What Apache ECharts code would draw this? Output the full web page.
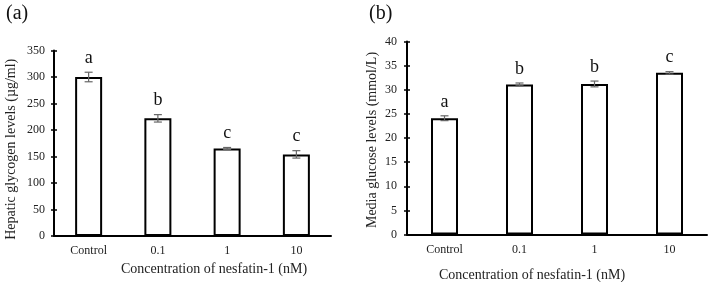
<!DOCTYPE html>
<html>
<head>
<meta charset="utf-8">
<script src="https://cdn.jsdelivr.net/npm/echarts@6/dist/echarts.min.js"></script>
<style>
  html, body { margin: 0; padding: 0; background: #fff; }
  #chart { width: 708px; height: 282px; }
</style>
</head>
<body>
<div id="chart"></div>
<script>
const categories = ['Control', '0.1', '1', '10'];

// (a) hepatic glycogen
const glycogen = [300, 222, 165, 154];
const glycogenErr = [9, 7, 2, 7];
const glycogenLetters = ['a', 'b', 'c', 'c'];
const glycogenTicks = { min: 0, max: 350, interval: 50 };

// (b) media glucose
const glucose = [24.1, 31.1, 31.2, 33.5];
const glucoseErr = [0.5, 0.3, 0.6, 0.25];
const glucoseLetters = ['a', 'b', 'b', 'c'];
const glucoseTicks = { min: 0, max: 40, interval: 5 };

const FONT = 'Liberation Serif';
const chart = echarts.init(document.getElementById('chart'));

function xAxis(idx, pad) {
  return {
    type: 'category',
    gridIndex: idx,
    data: categories,
    name: 'Concentration of nesfatin-1 (nM)',
    nameLocation: 'middle',
    nameGap: idx === 0 ? 24 : 34,
    nameTextStyle: { fontFamily: FONT, fontSize: 14, color: '#222', padding: pad },
    axisLine: { lineStyle: { color: '#000', width: 2 } },
    axisTick: { show: false },
    axisLabel: { fontFamily: FONT, fontSize: 12, color: '#222', margin: 9 }
  };
}

function yAxis(idx, ticks, name, gap, margin, pad) {
  return {
    type: 'value',
    gridIndex: idx,
    min: ticks.min,
    max: ticks.max,
    interval: ticks.interval,
    name: name,
    nameLocation: 'middle',
    nameGap: gap,
    nameTextStyle: { fontFamily: FONT, fontSize: 14, color: '#222', padding: pad },
    axisLine: { show: true, lineStyle: { color: '#000', width: 2 } },
    axisTick: { show: true, length: 3, lineStyle: { color: '#000', width: 1.5 } },
    axisLabel: { fontFamily: FONT, fontSize: 12, color: '#222', margin: margin },
    splitLine: { show: false }
  };
}

// second axis per grid only draws the inner half of the ticks
function innerTicks(idx, ticks) {
  return {
    type: 'value',
    gridIndex: idx,
    position: 'left',
    min: ticks.min,
    max: ticks.max,
    interval: ticks.interval,
    axisLine: { show: false },
    axisTick: { show: true, inside: true, length: 3, lineStyle: { color: '#000', width: 1.5 } },
    axisLabel: { show: false },
    splitLine: { show: false }
  };
}

function barSeries(idx, values) {
  return {
    type: 'bar',
    xAxisIndex: idx,
    yAxisIndex: idx * 2,
    data: values,
    barWidth: 27,
    itemStyle: { color: '#fff', borderColor: '#000', borderWidth: 2 },
    silent: true
  };
}

function errSeries(idx, values, errs, letters) {
  return {
    type: 'custom',
    xAxisIndex: idx,
    yAxisIndex: idx * 2,
    data: values.map((v, i) => [i, v, errs[i]]),
    clip: false,
    z: 5,
    renderItem: (params, api) => {
      const i = api.value(0), v = api.value(1), e = api.value(2);
      const hi = api.coord([i, v + e]);
      const lo = api.coord([i, v - e]);
      const cap = 4;
      const style = { stroke: '#666', lineWidth: 1.2 };
      return {
        type: 'group',
        children: [
          { type: 'line', shape: { x1: hi[0], y1: hi[1], x2: lo[0], y2: lo[1] }, style },
          { type: 'line', shape: { x1: hi[0] - cap, y1: hi[1], x2: hi[0] + cap, y2: hi[1] }, style },
          { type: 'line', shape: { x1: lo[0] - cap, y1: lo[1], x2: lo[0] + cap, y2: lo[1] }, style },
          {
            type: 'text',
            style: {
              text: letters[params.dataIndex],
              x: hi[0], y: hi[1] - 14,
              align: 'center', verticalAlign: 'middle',
              fontFamily: FONT, fontSize: 18, fill: '#111'
            }
          }
        ]
      };
    }
  };
}

chart.setOption({
  animation: false,
  title: [
    { text: '(a)', left: 1, top: -1, textStyle: { fontFamily: FONT, fontSize: 20, fontWeight: 'normal', color: '#111' } },
    { text: '(b)', left: 364, top: -1, textStyle: { fontFamily: FONT, fontSize: 20, fontWeight: 'normal', color: '#111' } }
  ],
  grid: [
    { left: 54, top: 50.5, width: 277, bottom: 46, outerBoundsMode: 'none' },
    { left: 407, top: 41.5, width: 300, bottom: 47.5, outerBoundsMode: 'none' }
  ],
  xAxis: [xAxis(0, [0, 0, 0, 43]), xAxis(1, [0, 50, 0, 0])],
  yAxis: [
    yAxis(0, glycogenTicks, 'Hepatic glycogen levels (µg/ml)', 36, 9, [0, 12, 0, 0]),
    innerTicks(0, glycogenTicks),
    yAxis(1, glucoseTicks, 'Media glucose levels (mmol/L)', 28, 10, [0, 4, 0, 0]),
    innerTicks(1, glucoseTicks)
  ],
  series: [
    barSeries(0, glycogen),
    errSeries(0, glycogen, glycogenErr, glycogenLetters),
    barSeries(1, glucose),
    errSeries(1, glucose, glucoseErr, glucoseLetters)
  ]
});
</script>
</body>
</html>
